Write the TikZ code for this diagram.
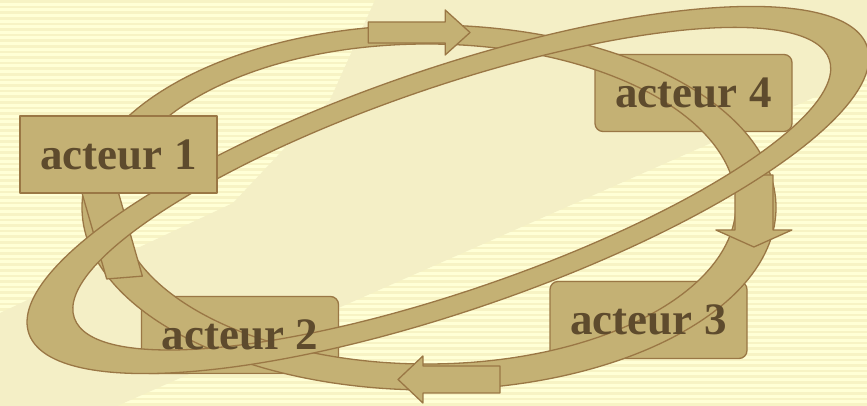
\documentclass[tikz,border=0pt]{standalone}
\usepackage{fontspec}
\setmainfont{Liberation Serif}
\definecolor{bgl}{HTML}{FFFFD6}
\definecolor{bgs}{HTML}{F7F3C4}
\definecolor{bgp}{HTML}{F4EFC6}
\definecolor{bandc}{HTML}{C4B174}
\definecolor{edgec}{HTML}{9A7745}
\definecolor{txtc}{HTML}{5E4B2D}
\tikzset{
  band/.style={fill=bandc, draw=edgec, line width=1.3pt, line join=round},
  actbox/.style={band, minimum width=197pt, minimum height=77pt, inner sep=0pt},
  roundbox/.style={actbox, rounded corners=8pt},
  acttext/.style={text=txtc, inner sep=0pt, font=\fontsize{45}{50}\selectfont\bfseries},
}
% rotation, radius, shaft half width, head half width, tail, head base, tip
\newcommand\ringarr[7]{%
  \begin{scope}[rotate=#1]
    \path[band] (#5,#2-#3) -- (#6,#2-#3) -- (#6,#2-#4) -- (#7,#2)
      -- (#6,#2+#4) -- (#6,#2+#3) -- (#5,#2+#3) -- cycle;
  \end{scope}}
\begin{document}
\begin{tikzpicture}[x=1pt,y=1pt]
\useasboundingbox (0,0) rectangle (867,406);
\clip (0,0) rectangle (867,406);
% background
\fill[bgl] (0,0) rectangle (867,406);
\foreach \i in {0,...,73} \fill[bgs] (0,{\i*5.6}) rectangle (867,{\i*5.6+2.6});
\fill[bgp] (0,93) -- (233,203) -- (330,306) -- (375,406) -- (867,406)
  -- (867,332) -- (117,0) -- (0,0) -- cycle;
% boxes under the rings
\node[roundbox] (a4) at (693.5,313) {};
\node[roundbox] (a3) at (648.5,86) {};
\node[roundbox] (a2) at (240,71) {};
% arrow ring
\path[band, even odd rule] (429,198.5) ellipse [x radius=347pt, y radius=182.5pt]
  (427,202) ellipse [x radius=309pt, y radius=160pt];
\begin{scope}[shift={(429,199)}, xscale=1.9]
  \ringarr{0}{174.5}{10.5}{22.5}{-32}{8.5}{21.6}
  \ringarr{-90}{171}{10}{20}{-32}{23}{40}
  \ringarr{180}{172.5}{13.5}{23.5}{-37.4}{3.2}{16.3}
  \ringarr{98.6}{169}{9.5}{22}{-45.8}{48}{62}
\end{scope}
% tilted crescent ring
\path[band, even odd rule, rotate around={18.9:(448,216)}]
  (448,216) ellipse [x radius=443pt, y radius=121pt]
  (452,216) ellipse [x radius=399pt, y radius=102pt];
% box on top
\node[actbox] (a1) at (118.5,251.5) {};
% labels
\node[acttext] (t1) at (a1.center) {acteur 1};
\node[acttext] (t2) at (a2.center) {acteur 2};
\node[acttext] (t3) at (a3.center) {acteur 3};
\node[acttext] (t4) at (a4.center) {acteur 4};
\end{tikzpicture}
\end{document}
